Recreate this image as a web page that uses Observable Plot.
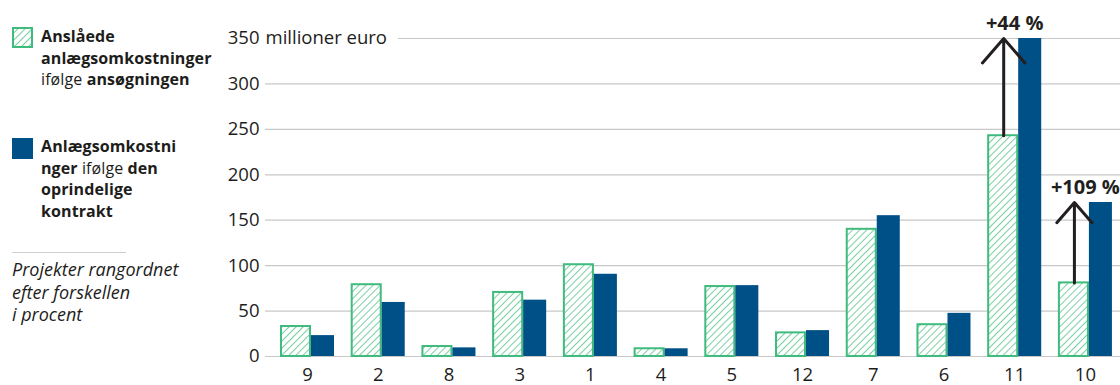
<!DOCTYPE html>
<html>
<head>
<meta charset="utf-8">
<script src="https://cdn.jsdelivr.net/npm/d3@7"></script>
<script src="https://cdn.jsdelivr.net/npm/@observablehq/plot@0.6"></script>
<style>
  html, body { margin: 0; padding: 0; background: #fff; }
  body { width: 1120px; height: 385px; position: relative; overflow: hidden; font-family: "Open Sans", sans-serif; color: #1d1d1b; }
  #chart { position: absolute; left: 0; top: 0; }
  .leg { position: absolute; left: 41px; font-size: 16px; line-height: 21.5px; white-space: nowrap; letter-spacing: 0.1px; }
  .leg b { font-weight: 700; }
  .sw { position: absolute; left: 12px; width: 21px; height: 21px; }
  .sep { position: absolute; left: 12px; top: 252px; width: 114px; height: 0; border-top: 1px solid #cfcfcf; }
  .note { position: absolute; left: 12px; top: 258px; font-size: 18px; line-height: 22.5px; font-style: italic; white-space: nowrap; }
</style>
</head>
<body>
<svg width="0" height="0" style="position:absolute">
  <defs>
    <pattern id="hatch" patternUnits="userSpaceOnUse" width="5" height="5" patternTransform="rotate(45)">
      <rect width="5" height="5" fill="#fff"></rect>
      <line x1="0" y1="0" x2="0" y2="5" stroke="#3fbb7d" stroke-width="1.4"></line>
    </pattern>
  </defs>
</svg>
<div id="chart"></div>
<svg class="sw" style="top:27px" viewBox="0 0 21 21"><rect x="1" y="1" width="19" height="19" fill="url(#hatch)" stroke="#3fbb7d" stroke-width="2"></rect></svg>
<div class="leg" style="top:26px"><b>Anslåede</b><br><b>anlægsomkostninger</b><br>ifølge <b>ansøgningen</b></div>
<div class="sw" style="top:138px;background:#005088"></div>
<div class="leg" style="top:136px"><b>Anlægsomkostni</b><br><b>nger</b> ifølge <b>den</b><br><b>oprindelige</b><br><b>kontrakt</b></div>
<div class="sep"></div>
<div class="note">Projekter rangordnet<br>efter forskellen<br>i procent</div>
<script>
const projects  = ["9", "2", "8", "3", "1", "4", "5", "12", "7", "6", "11", "10"];
const estimated = [33, 79, 11, 70.5, 101, 8.5, 77, 26, 140, 35, 243, 81];
const contract  = [23, 59.5, 9.5, 62, 90.5, 8.5, 78, 28.5, 155, 47.5, 350, 169.5];
const yTicks = [0, 50, 100, 150, 200, 250, 300, 350];
const unitLabel = "millioner euro";
const changeProjects = ["11", "10"];
const changeLabels = ["+44 %", "+109 %"];

const GREEN = "#3fbb7d";
const BLUE = "#005088";
const INK = "#231f20";

const data = projects.map((p, i) => ({project: p, estimated: estimated[i], contract: contract[i]}));
const changes = changeProjects.map((p, i) => {
  const d = data.find(r => r.project === p);
  return {project: p, estimated: d.estimated, contract: d.contract, label: changeLabels[i]};
});

const chart = Plot.plot({
  width: 1120,
  height: 385,
  marginLeft: 265,
  marginRight: 0,
  marginTop: 38,
  marginBottom: 29,
  style: {fontFamily: "'Open Sans', sans-serif", color: "#1d1d1b", background: "transparent", overflow: "visible"},
  x: {domain: projects, paddingInner: 0.236, paddingOuter: 0.163, align: 0.65, round: false, label: null},
  y: {domain: [0, 350], label: null},
  marks: [
    Plot.ruleY(yTicks.filter(d => d < 350), {stroke: "#c8c8c8", strokeWidth: 1.2}),
    Plot.ruleY([350], {stroke: "#c8c8c8", strokeWidth: 1.2, insetLeft: 133}),
    Plot.barY(data, {x: "project", y: "estimated", fill: "url(#hatch)", stroke: GREEN, strokeWidth: 2, insetLeft: 1, insetRight: 24}),
    Plot.barY(data, {x: "project", y: "contract", fill: BLUE, insetLeft: 31, insetRight: 0}),
    Plot.arrow(changes, {x1: "project", x2: "project", y1: "estimated", y2: "contract", dx: -11, stroke: INK, strokeWidth: 3, headLength: 20, headAngle: 82}),
    Plot.text(changes, {x: "project", y: "contract", text: "label", dy: -15, fontWeight: "bold", fontSize: 20, fill: INK}),
    Plot.text([350], {y: d => d, text: () => unitLabel, frameAnchor: "left", textAnchor: "start", dx: 0, fontSize: 18.5, fill: "#1d1d1b"}),
    Plot.axisY(yTicks, {tickSize: 0, tickPadding: 6, fontSize: 18.5, label: null}),
    Plot.axisX({tickSize: 0, tickPadding: 11, fontSize: 18.5, label: null})
  ]
});
document.getElementById("chart").appendChild(chart);
</script>
</body>
</html>
